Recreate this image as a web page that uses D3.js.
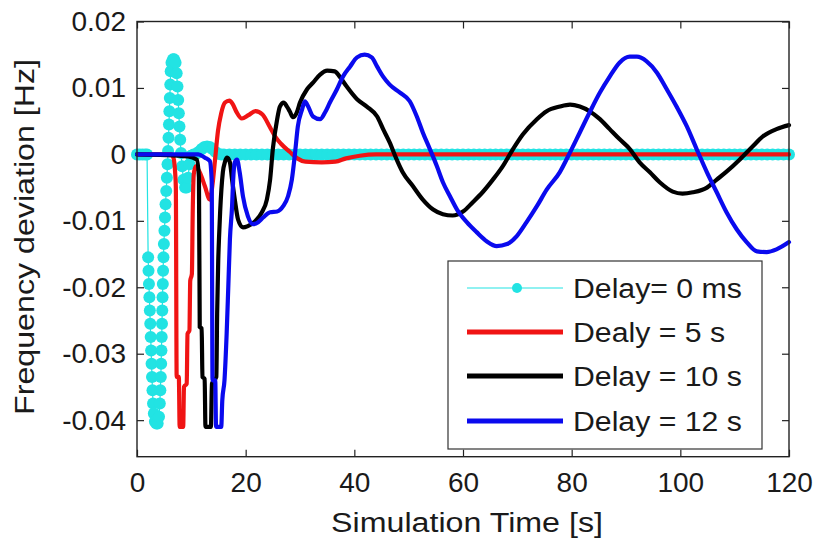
<!DOCTYPE html>
<html><head><meta charset="utf-8">
<script src="https://cdn.jsdelivr.net/npm/d3@7"></script>
<style>body{margin:0;background:#fff}svg{display:block}text{font-family:"Liberation Sans",Arial,sans-serif;fill:#1a1a1a}</style>
</head><body><svg id="c" width="819" height="538"></svg>
<script>
const xTicks = [0,20,40,60,80,100,120];
const yTicks = [0.02,0.01,0,-0.01,-0.02,-0.03,-0.04];
const seriesNames = ["Delay= 0 ms","Dealy = 5 s","Delay = 10 s","Delay = 12 s"];
const seriesColors = ["#22e3e3","#f01414","#000000","#0a0aee"];

const cyan0 = [[0,0],[0.5,0],[1,0],[1.5,0],[1.85,0],
[2.05,-0.0155],[2.12,-0.0175],[2.2,-0.0195],[2.28,-0.0215],[2.36,-0.0235],[2.44,-0.0255],[2.52,-0.0275],[2.6,-0.0295],[2.68,-0.0315],[2.76,-0.0335],[2.85,-0.0355],[2.95,-0.0375],[3.1,-0.039],[3.3,-0.0402],[3.55,-0.0405],[3.8,-0.0405],[4.05,-0.0395],[4.2,-0.0375],[4.3,-0.0355],[4.38,-0.0335],[4.45,-0.0315],[4.5,-0.0295],[4.55,-0.0275],[4.6,-0.0255],[4.65,-0.0235],[4.7,-0.0215],[4.75,-0.0195],[4.8,-0.0175],[4.87,-0.0155],[4.95,-0.0135],[5.05,-0.0115],[5.15,-0.0095],[5.25,-0.0075],[5.38,-0.0055],[5.5,-0.0035],[5.62,-0.0015],[5.72,0.0005],[5.8,0.0025],[5.88,0.0045],[5.96,0.0065],[6.04,0.0085],[6.12,0.0105],[6.2,0.0125],[6.35,0.0138],[6.6,0.0143],[6.85,0.0143],[7.1,0.0138],[7.3,0.0122],[7.45,0.0102],[7.58,0.0082],[7.7,0.0062],[7.82,0.0042],[7.95,0.0022],[8.1,0.0002],[8.3,-0.0018],[8.55,-0.0038],[8.85,-0.005],[9.15,-0.005],[9.4,-0.0035],[9.65,-0.0015],[9.95,-0.0002],[10.4,0],[10.9,0.0001],[11.4,0.0004],[11.9,0.0008],[12.4,0.0011],[12.9,0.0012],[13.4,0.0011],[13.9,0.0008],[14.4,0.0004],[14.9,0.0001],[15.5,0],[16,0],
[17,0],[18,0],[19,0],[20,0],[21,0],[22,0],[23,0],[24,0],[25,0],[26,0],[27,0],[28,0],[29,0],[30,0],[31,0],[32,0],[33,0],[34,0],[35,0],[36,0],[37,0],[38,0],[39,0],[40,0],
[41,0],[42,0],[43,0],[44,0],[45,0],[46,0],[47,0],[48,0],[49,0],[50,0],[51,0],[52,0],[53,0],[54,0],[55,0],[56,0],[57,0],[58,0],[59,0],[60,0],[61,0],[62,0],[63,0],[64,0],
[65,0],[66,0],[67,0],[68,0],[69,0],[70,0],[71,0],[72,0],[73,0],[74,0],[75,0],[76,0],[77,0],[78,0],[79,0],[80,0],[81,0],[82,0],[83,0],[84,0],[85,0],[86,0],[87,0],[88,0],
[89,0],[90,0],[91,0],[92,0],[93,0],[94,0],[95,0],[96,0],[97,0],[98,0],[99,0],[100,0],[101,0],[102,0],[103,0],[104,0],[105,0],[106,0],[107,0],[108,0],[109,0],[110,0],
[111,0],[112,0],[113,0],[114,0],[115,0],[116,0],[117,0],[118,0],[119,0],[120,0]];

const red5 = [[0,0],[6.3,0],[6.7,-0.0005],[7.0,-0.0025],[7.15,-0.005],[7.3,-0.0335],[7.7,-0.0335],[7.85,-0.041],[8.5,-0.041],[8.65,-0.035],[9.15,-0.0345],[9.3,-0.027],[9.65,-0.0265],[9.8,-0.019],[10.1,-0.018],[10.25,-0.009],[10.45,-0.003],[10.8,-0.0018],[11.6,-0.0028],[12.5,-0.0048],[13.4,-0.0068],[13.9,-0.0045],[14.4,-0.0005],[14.9,0.0035],[15.5,0.0062],[16.2,0.0078],[17.0,0.0081],[17.6,0.0076],[18.3,0.0064],[19.3,0.0054],[20.5,0.0059],[21.8,0.0065],[23.1,0.006],[24.4,0.0042],[25.5,0.0026],[26.5,0.0016],[28.1,0.0004],[29.5,-0.0006],[31,-0.0011],[34,-0.0012],[36.5,-0.0011],[38.5,-0.0006],[41,-0.0002],[44,0],[50,0],[60,0],[70,0],[80,0],[90,0],[100,0],[110,0],[120,0]];

const black10 = [[0,0],[9.4,-0.0003],[11.0,-0.0008],[11.4,-0.0035],[11.55,-0.026],[11.9,-0.0262],[12.05,-0.0335],[12.45,-0.0338],[12.6,-0.041],[13.6,-0.041],[13.8,-0.0345],[14.6,-0.0335],[14.75,-0.024],[14.95,-0.016],[15.1,-0.0125],[15.3,-0.0087],[15.8,-0.0027],[16.2,-0.0011],[16.6,-0.0005],[17.1,-0.0012],[17.5,-0.0038],[18.0,-0.0068],[18.6,-0.0098],[19.5,-0.011],[20.4,-0.0108],[21.7,-0.0101],[23.0,-0.0087],[23.9,-0.0068],[24.5,-0.0038],[25.0,0.0008],[25.8,0.0053],[26.3,0.0072],[27.0,0.0078],[27.6,0.0072],[28.1,0.0065],[28.7,0.0056],[29.4,0.0063],[30.0,0.0078],[31.3,0.0098],[32.4,0.0108],[33.7,0.012],[35.0,0.0126],[36.4,0.0125],[37.3,0.0117],[38.6,0.0102],[40.5,0.0083],[42.3,0.0072],[44.2,0.0057],[45.3,0.0038],[46.5,0.0018],[47.8,-0.0008],[48.9,-0.0027],[50.8,-0.0048],[52.6,-0.0068],[54.5,-0.0083],[56.3,-0.009],[58.1,-0.0092],[60.0,-0.0086],[61.8,-0.0072],[63.6,-0.0057],[65.5,-0.0038],[67.3,-0.0018],[69.2,0.0008],[71.0,0.003],[73.6,0.0053],[75.4,0.0065],[77.8,0.0072],[79.7,0.0075],[81.5,0.0072],[83.3,0.0065],[85.2,0.0053],[87.0,0.0038],[88.8,0.0023],[90.7,0.0008],[92.5,-0.0012],[94.4,-0.0027],[96.2,-0.0042],[98.6,-0.0056],[100.4,-0.0059],[102.3,-0.0057],[104.9,-0.005],[106.7,-0.0038],[108.5,-0.0026],[110.9,-0.0008],[113.3,0.0012],[115.2,0.0027],[117.7,0.0038],[120,0.0044]];

const blue12 = [[0,0],[11.3,0],[12.5,-0.0005],[13.4,-0.001],[13.75,-0.004],[13.9,-0.034],[14.4,-0.034],[14.55,-0.041],[15.5,-0.041],[15.7,-0.037],[16.1,-0.034],[16.5,-0.027],[16.8,-0.020],[17.1,-0.0128],[17.5,-0.0078],[17.7,-0.0038],[18.0,-0.0012],[18.4,-0.0008],[18.9,-0.0027],[19.5,-0.0063],[20.4,-0.0093],[21.3,-0.0105],[22.3,-0.0102],[23.2,-0.0095],[24.5,-0.0087],[25.8,-0.0086],[26.9,-0.0078],[27.8,-0.0063],[28.5,-0.0038],[29.1,0.0003],[29.6,0.0042],[30.4,0.0068],[30.9,0.008],[31.5,0.0072],[32.4,0.0057],[33.7,0.0053],[34.6,0.0063],[35.5,0.0078],[36.8,0.0098],[37.9,0.0117],[39.2,0.0132],[40.5,0.0146],[41.9,0.015],[43.2,0.0146],[44.2,0.0132],[45.3,0.0117],[46.5,0.0105],[48.4,0.0093],[50.2,0.008],[51.5,0.0057],[52.6,0.0033],[53.9,0.0008],[55.2,-0.0018],[56.3,-0.0042],[57.6,-0.0063],[58.9,-0.0083],[60.7,-0.0102],[62.5,-0.0117],[64.4,-0.0131],[66.2,-0.0138],[68.1,-0.0135],[69.9,-0.0123],[71.7,-0.0102],[73.6,-0.0078],[75.4,-0.0053],[77.8,-0.0027],[79.7,0.0003],[81.5,0.0033],[83.3,0.0063],[85.2,0.0093],[87.0,0.0117],[88.8,0.0138],[90.7,0.0147],[92.0,0.0147],[93.8,0.014],[95.7,0.0123],[97.5,0.0098],[99.3,0.0072],[101.2,0.0042],[103.0,0.0008],[104.9,-0.0027],[106.7,-0.0057],[108.5,-0.0087],[110.4,-0.0113],[112.2,-0.0132],[114.1,-0.0146],[115.9,-0.0147],[117.7,-0.0143],[120,-0.0132]];

const svg = d3.select("#c");
const L=137, R=789, T=21.5, B=456.7;
const x = d3.scaleLinear().domain([0,120]).range([L,R]);
const y = d3.scaleLinear().domain([-0.0455,0.02]).range([B,T]);
const fmtY = d => d===0 ? "0" : d.toFixed(2);

// axes with inward ticks
svg.append("g").attr("transform",`translate(0,${B})`)
  .call(d3.axisBottom(x).tickValues(xTicks).tickSizeInner(-7).tickSizeOuter(0).tickPadding(15).tickFormat(d3.format("d")));
svg.append("g").attr("transform",`translate(${L},0)`)
  .call(d3.axisLeft(y).tickValues(yTicks).tickSizeInner(-7).tickSizeOuter(0).tickPadding(11).tickFormat(fmtY));
svg.append("g").attr("transform",`translate(0,${T})`)
  .call(d3.axisTop(x).tickValues(xTicks).tickSizeInner(-7).tickSizeOuter(0).tickFormat(""));
svg.append("g").attr("transform",`translate(${R},0)`)
  .call(d3.axisRight(y).tickValues(yTicks).tickSizeInner(-7).tickSizeOuter(0).tickFormat(""));
svg.selectAll(".domain").remove();
svg.selectAll(".tick line").attr("stroke","#222").attr("stroke-width",1.2);
svg.selectAll(".tick text").attr("font-size",28).attr("font-family",null).attr("fill","#1a1a1a");

// series
const line = d3.line().x(d=>x(d[0])).y(d=>y(d[1])).curve(d3.curveMonotoneX);
const lineLin = d3.line().x(d=>x(d[0])).y(d=>y(d[1]));
const gp = svg.append("g");
gp.append("path").datum(cyan0).attr("d",lineLin).attr("fill","none").attr("stroke",seriesColors[0]).attr("stroke-width",1.2);
gp.selectAll("circle.m").data(cyan0).join("circle").attr("class","m")
  .attr("cx",d=>x(d[0])).attr("cy",d=>y(d[1])).attr("r",6).attr("fill",seriesColors[0]);
[[red5,1],[black10,2],[blue12,3]].forEach(([data,i])=>{
  gp.append("path").datum(data).attr("d",line).attr("fill","none")
    .attr("stroke",seriesColors[i]).attr("stroke-width",4.2).attr("stroke-linejoin","round").attr("stroke-linecap","round");
});

// frame
svg.append("rect").attr("x",L).attr("y",T).attr("width",R-L).attr("height",B-T)
  .attr("fill","none").attr("stroke","#222").attr("stroke-width",1.4);

// legend
const lg = svg.append("g");
lg.append("rect").attr("x",448).attr("y",261).attr("width",314).attr("height",188)
  .attr("fill","#fff").attr("stroke","#333").attr("stroke-width",1.2);
const rowY = [288,332,376,421];
seriesNames.forEach((name,i)=>{
  lg.append("line").attr("x1",467).attr("x2",563).attr("y1",rowY[i]).attr("y2",rowY[i])
    .attr("stroke",seriesColors[i]).attr("stroke-width",i===0?1.2:5);
  if(i===0) lg.append("circle").attr("cx",517).attr("cy",rowY[i]).attr("r",5).attr("fill",seriesColors[0]);
  lg.append("g").attr("transform",`translate(573,${rowY[i]}) scale(1.12,1)`)
    .append("text").attr("dy","0.36em").attr("font-size",27).text(name);
});

// axis titles
svg.append("g").attr("transform","translate(467,532) scale(1.15,1)")
  .append("text").attr("text-anchor","middle").attr("font-size",28).text("Simulation Time [s]");
svg.append("g").attr("transform","translate(34,237) rotate(-90) scale(1.15,1)")
  .append("text").attr("text-anchor","middle").attr("font-size",28).text("Frequency deviation [Hz]");
</script></body></html>
